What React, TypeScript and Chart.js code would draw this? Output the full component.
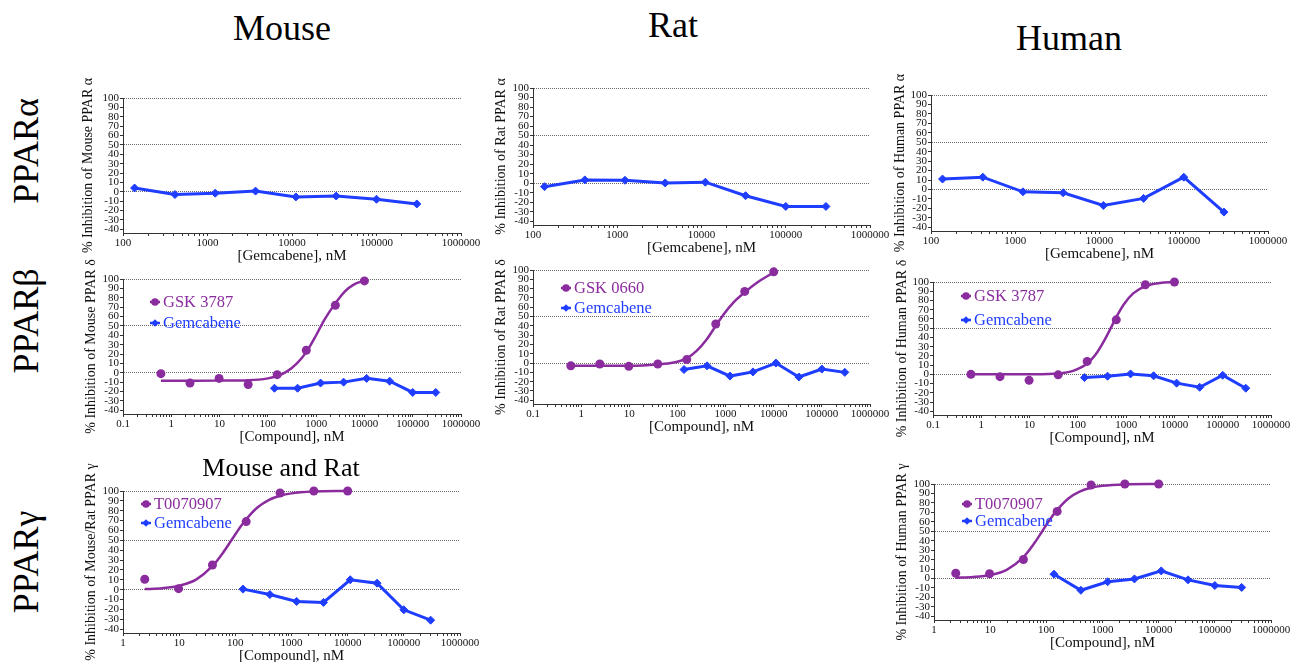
import React, { useEffect, useRef } from 'react';
import { Chart, registerables } from 'chart.js';

Chart.register(...registerables);

// ---------- data ----------
const gemcabeneConc = [137, 412, 1235, 3704, 11111, 33333, 100000, 300000];
const deltaRefConc = [0.61, 2.44, 9.77, 39.1, 156, 625, 2500, 10000];
const gammaRefConc = [2.44, 9.77, 39.1, 156, 625, 2500, 10000];

const mouseAlphaGemcabene = [4, -3, -1.5, 0.7, -5.5, -4.6, -8, -13];
const ratAlphaGemcabene = [-3.7, 3.4, 3, 0.2, 1, -13.2, -24.5, -24.5];
const humanAlphaGemcabene = [11, 13, -2.5, -3.5, -17, -9.5, 13, -24];

const mouseDeltaGsk3787 = [-1, -11, -6, -12.5, -2, 24, 72, 98];
const mouseDeltaGemcabene = [-16.5, -16.5, -11, -10, -6, -9, -21, -21];
const mouseDeltaCurveConc = [0.61, 3, 10, 39, 100, 156, 250, 400, 625, 1000, 1500, 2500, 4000, 6000, 10000];
const mouseDeltaCurve = [-8.5, -8.5, -8.4, -8, -6, -3.5, 1.5, 10, 22, 40, 57, 74, 87, 94, 98.5];

const ratDeltaGsk0660 = [-3, -1, -3.5, -1, 3.7, 42, 77, 98];
const ratDeltaGemcabene = [-7, -3, -14, -9.5, 0, -15, -6.5, -10];
const ratDeltaCurveConc = [0.61, 3, 10, 39, 83, 156, 250, 400, 625, 900, 1450, 2500, 4400, 10000];
const ratDeltaCurve = [-3, -3, -3, -1.5, 0.5, 5, 13, 25, 40, 52, 65, 76, 86, 97.5];

const humanDeltaGsk3787 = [0, -2.5, -6.5, -0.5, 14, 59, 97, 100];
const humanDeltaGemcabene = [-3.5, -2, 0.5, -1.5, -9.5, -14, -1, -15];
const humanDeltaCurveConc = [0.61, 3, 10, 39, 80, 156, 250, 350, 480, 625, 900, 1400, 2500, 5000, 10000];
const humanDeltaCurve = [0, 0, 0.1, 1, 3.8, 11.7, 23.7, 36.3, 50, 62, 76, 87.7, 95.6, 99, 100];

const mouseRatGammaT0070907 = [10.5, 1, 25, 69, 98, 100, 100];
const mouseRatGammaGemcabene = [0.5, -5, -12, -13, 10, 6.5, -20.5, -31];
const gammaCurveConc = [2.44, 5, 10, 20, 39, 60, 85, 120, 156, 250, 400, 625, 1000, 2500, 10000];
const mouseRatGammaCurve = [0.5, 1.4, 3.9, 10.2, 23.7, 37.2, 50, 62.7, 71.3, 83.5, 91.1, 95.2, 97.6, 99.4, 100];

const humanGammaT0070907 = [5.5, 5, 20, 71, 99, 100, 100];
const humanGammaGemcabene = [4.5, -12.5, -3.5, -0.5, 8, -1.5, -7.5, -9.5];
const humanGammaCurve = [0.8, 1.5, 3.6, 9.4, 22.6, 36.7, 50.2, 63.7, 72.6, 85, 92.3, 96, 98.1, 99.6, 100];

const yTicks = [-40, -30, -20, -10, 0, 10, 20, 30, 40, 50, 60, 70, 80, 90, 100];
const yGridValues = [0, 50, 100];
const xTicksAlpha = [100, 1000, 10000, 100000, 1000000];
const xLabelsAlpha = ['100', '1000', '10000', '100000', '1000000'];
const xTicksDelta = [0.1, 1, 10, 100, 1000, 10000, 100000, 1000000];
const xLabelsDelta = ['0.1', '1', '10', '100', '1000', '10000', '100000', '1000000'];
const xTicksGamma = [1, 10, 100, 1000, 10000, 100000, 1000000];
const xLabelsGamma = ['1', '10', '100', '1000', '10000', '100000', '1000000'];

const columnTitles = ['Mouse', 'Rat', 'Human'];
const rowTitles = ['PPARα', 'PPARβ', 'PPARγ'];
const gammaMouseRatTitle = 'Mouse and Rat';
const gemTitle = '[Gemcabene], nM';
const compoundTitle = '[Compound], nM';
const GEM = 'Gemcabene';

// ---------- styles ----------
const PURPLE = '#8b2c9e';
const BLUE = '#1f3dff';
const FONT = '"Liberation Serif", "Times New Roman", serif';
const PT = 40, PR = 25, PB = 8, XH = 34;
const YTITLE_SIZE = 14;
const YTITLE_HALF = (YTITLE_SIZE * 1.2) / 2;

const pts = (xs: number[], ys: number[]) => xs.map((x, i) => ({ x, y: ys[i] }));

const gemDs = (vals: number[]) => ({
  label: GEM,
  data: pts(gemcabeneConc, vals),
  showLine: true,
  borderColor: BLUE,
  backgroundColor: BLUE,
  borderWidth: 3,
  pointStyle: 'rectRot',
  pointRadius: 4,
  pointBorderWidth: 1,
  pointBorderColor: BLUE,
  pointBackgroundColor: BLUE,
  tension: 0,
  clip: false,
  order: 1,
});
const refPts = (label: string, xs: number[], vals: number[]) => ({
  label,
  data: pts(xs, vals),
  showLine: false,
  pointStyle: 'circle',
  pointRadius: 4.5,
  pointBackgroundColor: PURPLE,
  pointBorderColor: PURPLE,
  pointBorderWidth: 0,
  clip: false,
  order: 2,
});
const refCurve = (xs: number[], vals: number[]) => ({
  label: 'fit',
  data: pts(xs, vals),
  showLine: true,
  borderColor: PURPLE,
  borderWidth: 2.5,
  pointRadius: 0,
  cubicInterpolationMode: 'monotone',
  clip: false,
  order: 3,
});

type Panel = any;

const panels: Panel[] = [
  { key: 'ma', L: 123, T: 98, B: 233, R: 461, tcx: 88, yTitle: '% Inhibition of Mouse PPAR α', xTitle: gemTitle,
    xTicks: xTicksAlpha, xLabels: xLabelsAlpha, datasets: [gemDs(mouseAlphaGemcabene)] },
  { key: 'ra', L: 533, T: 88, B: 225, R: 870, tcx: 501, yTitle: '% Inhibition of Rat PPAR α', xTitle: gemTitle,
    xTicks: xTicksAlpha, xLabels: xLabelsAlpha, datasets: [gemDs(ratAlphaGemcabene)] },
  { key: 'ha', L: 931, T: 95, B: 231, R: 1268, tcx: 900, yTitle: '% Inhibition of Human PPAR α', xTitle: gemTitle,
    xTicks: xTicksAlpha, xLabels: xLabelsAlpha, datasets: [gemDs(humanAlphaGemcabene)] },
  { key: 'md', L: 123, T: 279, B: 414, R: 461, tcx: 91, yTitle: '% Inhibition of Mouse PPAR δ', xTitle: compoundTitle,
    xTicks: xTicksDelta, xLabels: xLabelsDelta,
    datasets: [refCurve(mouseDeltaCurveConc, mouseDeltaCurve), refPts('GSK 3787', deltaRefConc, mouseDeltaGsk3787), gemDs(mouseDeltaGemcabene)],
    legend: { dx: 32, dy: 23, gap: 21, items: [{ label: 'GSK 3787', color: PURPLE, m: 'circle' }, { label: GEM, color: BLUE, m: 'diamond' }] } },
  { key: 'rd', L: 533, T: 270, B: 404, R: 870, tcx: 501, yTitle: '% Inhibition of Rat PPAR δ', xTitle: compoundTitle,
    xTicks: xTicksDelta, xLabels: xLabelsDelta,
    datasets: [refCurve(ratDeltaCurveConc, ratDeltaCurve), refPts('GSK 0660', deltaRefConc, ratDeltaGsk0660), gemDs(ratDeltaGemcabene)],
    legend: { dx: 33, dy: 18, gap: 20, items: [{ label: 'GSK 0660', color: PURPLE, m: 'circle' }, { label: GEM, color: BLUE, m: 'diamond' }] } },
  { key: 'hd', L: 933, T: 282, B: 415, R: 1271, tcx: 902, yTitle: '% Inhibition of Human PPAR δ', xTitle: compoundTitle,
    xTicks: xTicksDelta, xLabels: xLabelsDelta,
    datasets: [refCurve(humanDeltaCurveConc, humanDeltaCurve), refPts('GSK 3787', deltaRefConc, humanDeltaGsk3787), gemDs(humanDeltaGemcabene)],
    legend: { dx: 33, dy: 14, gap: 24, items: [{ label: 'GSK 3787', color: PURPLE, m: 'circle' }, { label: GEM, color: BLUE, m: 'diamond' }] } },
  { key: 'mg', L: 123, T: 491, B: 633, R: 460, tcx: 91, yTitle: '% Inhibition of Mouse/Rat PPAR γ', xTitle: compoundTitle,
    xTicks: xTicksGamma, xLabels: xLabelsGamma,
    datasets: [refCurve(gammaCurveConc, mouseRatGammaCurve), refPts('T0070907', gammaRefConc, mouseRatGammaT0070907), gemDs(mouseRatGammaGemcabene)],
    legend: { dx: 23, dy: 13, gap: 19, items: [{ label: 'T0070907', color: PURPLE, m: 'circle' }, { label: GEM, color: BLUE, m: 'diamond' }] } },
  { key: 'hg', L: 934, T: 484, B: 620, R: 1271, tcx: 902, yTitle: '% Inhibition of Human PPAR γ', xTitle: compoundTitle,
    xTicks: xTicksGamma, xLabels: xLabelsGamma,
    datasets: [refCurve(gammaCurveConc, humanGammaCurve), refPts('T0070907', gammaRefConc, humanGammaT0070907), gemDs(humanGammaGemcabene)],
    legend: { dx: 33, dy: 20, gap: 17, items: [{ label: 'T0070907', color: PURPLE, m: 'circle' }, { label: GEM, color: BLUE, m: 'diamond' }] } },
];

const legendPlugin = (legend: any) => ({
  id: 'inlineLegend',
  afterDatasetsDraw(chart: any) {
    if (!legend) return;
    const { ctx, chartArea } = chart;
    legend.items.forEach((it: any, i: number) => {
      const x = chartArea.left + legend.dx;
      const y = chartArea.top + legend.dy + i * legend.gap;
      ctx.save();
      ctx.strokeStyle = it.color;
      ctx.fillStyle = it.color;
      ctx.lineWidth = 2.5;
      ctx.beginPath();
      ctx.moveTo(x - 5, y);
      ctx.lineTo(x + 5, y);
      ctx.stroke();
      ctx.beginPath();
      if (it.m === 'circle') {
        ctx.arc(x, y, 3.8, 0, Math.PI * 2);
      } else {
        ctx.moveTo(x, y - 3.8);
        ctx.lineTo(x + 3.8, y);
        ctx.lineTo(x, y + 3.8);
        ctx.lineTo(x - 3.8, y);
        ctx.closePath();
      }
      ctx.fill();
      ctx.font = '16.5px ' + FONT;
      ctx.textAlign = 'left';
      ctx.textBaseline = 'middle';
      ctx.fillText(it.label, x + 8, y + 1);
      ctx.restore();
    });
  },
});

function PanelChart({ p }: { p: Panel }) {
  const ref = useRef<HTMLCanvasElement>(null);
  const left = Math.round(p.tcx - YTITLE_HALF);
  const top = p.T - PT;
  const width = p.R - left + PR;
  const height = p.B - p.T + PT + XH + PB;
  useEffect(() => {
    const yW = p.L - left;
    const majors: number[] = p.xTicks;
    const minors: number[] = [];
    for (let i = 0; i < majors.length - 1; i++) {
      for (let k = 2; k <= 9; k++) minors.push(majors[i] * k);
    }
    const allTicks = [...majors, ...minors].sort((a, b) => a - b);
    const labelFor = (v: number) => {
      const i = majors.findIndex((m) => Math.abs(m - v) / m < 1e-6);
      return i >= 0 ? p.xLabels[i] : '';
    };
    const chart = new Chart(ref.current as HTMLCanvasElement, {
      type: 'scatter',
      data: { datasets: p.datasets },
      options: {
        animation: false,
        responsive: true,
        maintainAspectRatio: false,
        devicePixelRatio: 1,
        events: [],
        layout: { padding: { top: PT, right: PR, bottom: PB, left: 0 } },
        plugins: { legend: { display: false }, tooltip: { enabled: false } },
        scales: {
          x: {
            type: 'logarithmic',
            min: majors[0],
            max: majors[majors.length - 1],
            afterBuildTicks: (s: any) => { s.ticks = allTicks.map((v) => ({ value: v })); },
            afterFit: (s: any) => { s.height = XH; },
            grid: { drawOnChartArea: false, drawTicks: true, tickLength: 3, tickColor: '#333', tickWidth: 1 },
            border: { display: true, color: '#333', width: 1 },
            ticks: {
              autoSkip: false, maxRotation: 0, minRotation: 0, padding: 1,
              font: { size: 11, family: FONT }, color: '#111',
              callback: (v: any) => labelFor(Number(v)),
            },
            title: { display: true, text: p.xTitle, font: { size: 15, family: FONT }, color: '#111', padding: { top: 0, bottom: 2 } },
          },
          y: {
            type: 'linear',
            min: -44,
            max: 100,
            afterBuildTicks: (s: any) => { s.ticks = yTicks.map((v) => ({ value: v })); },
            afterFit: (s: any) => { s.width = yW; },
            grid: {
              drawOnChartArea: true, drawTicks: true, tickLength: 3, tickColor: '#333', tickWidth: 1,
              tickBorderDash: [],
              lineWidth: 1,
              color: (c: any) => (c.tick && yGridValues.includes(c.tick.value) ? '#6a6a6a' : 'rgba(0,0,0,0)'),
            },
            border: { display: true, color: '#333', width: 1, dash: [1, 1] },
            ticks: {
              autoSkip: false, padding: 1,
              font: { size: 11, family: FONT }, color: '#111',
              callback: (v: any) => String(v),
            },
            title: { display: true, text: p.yTitle, font: { size: YTITLE_SIZE, family: FONT }, color: '#111', padding: 0 },
          },
        },
      } as any,
      plugins: [legendPlugin(p.legend)],
    } as any);
    return () => chart.destroy();
  }, []);
  return (
    <div style={{ position: 'absolute', left, top, width, height }}>
      <canvas ref={ref} />
    </div>
  );
}

const textStyle = (cx: number, cy: number, size: number, rotate = false): React.CSSProperties => ({
  position: 'absolute',
  left: cx,
  top: cy,
  transform: `translate(-50%, -50%)${rotate ? ' rotate(-90deg)' : ''}`,
  fontSize: size,
  lineHeight: 1,
  whiteSpace: 'nowrap',
  fontFamily: FONT,
  color: '#000',
});

export default function App() {
  return (
    <div style={{ position: 'absolute', left: 0, top: 0, width: 1291, height: 662, overflow: 'hidden', background: '#fff' }}>
      <div style={textStyle(282, 28, 36)}>{columnTitles[0]}</div>
      <div style={textStyle(673, 25, 36)}>{columnTitles[1]}</div>
      <div style={textStyle(1069, 38, 36)}>{columnTitles[2]}</div>
      <div style={textStyle(26, 151, 36, true)}>{rowTitles[0]}</div>
      <div style={textStyle(26, 321, 36, true)}>{rowTitles[1]}</div>
      <div style={textStyle(26, 562, 36, true)}>{rowTitles[2]}</div>
      {panels.map((p) => (
        <PanelChart key={p.key} p={p} />
      ))}
      <div style={textStyle(281, 468, 26)}>{gammaMouseRatTitle}</div>
    </div>
  );
}
